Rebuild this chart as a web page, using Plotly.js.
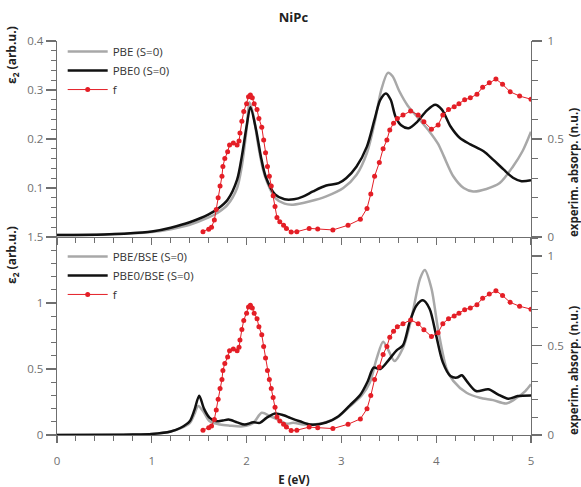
<!DOCTYPE html>
<html>
<head>
<meta charset="utf-8">
<script src="https://cdn.plot.ly/plotly-3.0.1.min.js"></script>
<style>html,body{margin:0;padding:0;background:#fff;}#chart{width:581px;height:487px;}</style>
</head>
<body>
<div id="chart"></div>
<script>
// ---- Top panel: PBE (S=0) ----
const pbeE = [0, 0.5, 1.0, 1.2, 1.4, 1.6, 1.7, 1.8, 1.9, 1.95, 2.0, 2.03, 2.07, 2.12, 2.17, 2.22, 2.3, 2.4, 2.49, 2.67, 2.84, 3.02, 3.16, 3.27, 3.35, 3.42, 3.49, 3.54, 3.61, 3.70, 3.8, 3.93, 4.02, 4.08, 4.18, 4.29, 4.39, 4.53, 4.67, 4.81, 4.91, 5.0];
const pbeV = [0.004, 0.005, 0.01, 0.016, 0.025, 0.04, 0.05, 0.066, 0.1, 0.145, 0.22, 0.275, 0.25, 0.19, 0.14, 0.11, 0.08, 0.068, 0.066, 0.073, 0.083, 0.1, 0.127, 0.172, 0.233, 0.30, 0.335, 0.328, 0.298, 0.268, 0.245, 0.215, 0.19, 0.165, 0.124, 0.1, 0.093, 0.098, 0.11, 0.144, 0.175, 0.215];
// ---- Top panel: PBE0 (S=0) ----
const pbe0E = [0, 0.5, 0.9, 1.0, 1.2, 1.4, 1.6, 1.7, 1.8, 1.9, 1.95, 2.0, 2.04, 2.1, 2.15, 2.2, 2.3, 2.4, 2.5, 2.6, 2.7, 2.84, 2.97, 3.05, 3.16, 3.27, 3.35, 3.41, 3.47, 3.52, 3.57, 3.63, 3.71, 3.8, 3.9, 3.99, 4.06, 4.15, 4.25, 4.36, 4.5, 4.6, 4.71, 4.81, 4.9, 5.0];
const pbe0V = [0.004, 0.005, 0.009, 0.011, 0.019, 0.03, 0.046, 0.058, 0.076, 0.117, 0.165, 0.226, 0.265, 0.219, 0.165, 0.124, 0.087, 0.077, 0.077, 0.083, 0.093, 0.105, 0.11, 0.12, 0.144, 0.185, 0.24, 0.28, 0.293, 0.28, 0.246, 0.228, 0.222, 0.235, 0.258, 0.27, 0.26, 0.226, 0.202, 0.189, 0.175, 0.158, 0.138, 0.121, 0.114, 0.116];
// ---- Bottom panel: PBE/BSE (S=0) ----
const bseE = [0, 0.8, 1.0, 1.2, 1.3, 1.4, 1.45, 1.49, 1.55, 1.61, 1.72, 1.82, 1.96, 2.07, 2.16, 2.25, 2.33, 2.42, 2.49, 2.63, 2.81, 2.95, 3.09, 3.21, 3.3, 3.37, 3.44, 3.49, 3.56, 3.65, 3.71, 3.76, 3.83, 3.88, 3.95, 4.02, 4.11, 4.18, 4.32, 4.46, 4.6, 4.74, 4.85, 4.94, 5.0];
const bseV = [0, 0.003, 0.008, 0.027, 0.05, 0.09, 0.16, 0.22, 0.17, 0.104, 0.079, 0.071, 0.066, 0.092, 0.168, 0.142, 0.117, 0.085, 0.092, 0.079, 0.092, 0.13, 0.218, 0.295, 0.397, 0.575, 0.707, 0.651, 0.56, 0.66, 0.80, 0.957, 1.185, 1.25, 1.11, 0.80, 0.50, 0.41, 0.32, 0.282, 0.264, 0.239, 0.282, 0.333, 0.384];
// ---- Bottom panel: PBE0/BSE (S=0) ----
const bse0E = [0, 0.8, 1.0, 1.2, 1.3, 1.4, 1.45, 1.5, 1.55, 1.61, 1.68, 1.75, 1.81, 1.9, 1.98, 2.07, 2.14, 2.21, 2.3, 2.39, 2.46, 2.56, 2.67, 2.84, 2.97, 3.09, 3.2, 3.28, 3.34, 3.41, 3.49, 3.58, 3.65, 3.72, 3.79, 3.86, 3.93, 4.0, 4.07, 4.15, 4.22, 4.27, 4.32, 4.42, 4.55, 4.65, 4.76, 4.86, 5.0];
const bse0V = [0, 0.003, 0.008, 0.027, 0.053, 0.104, 0.19, 0.298, 0.2, 0.13, 0.104, 0.11, 0.117, 0.096, 0.079, 0.096, 0.092, 0.13, 0.163, 0.15, 0.13, 0.104, 0.079, 0.095, 0.142, 0.225, 0.305, 0.41, 0.51, 0.50, 0.56, 0.64, 0.68, 0.855, 0.98, 1.02, 0.957, 0.753, 0.55, 0.447, 0.435, 0.453, 0.41, 0.333, 0.346, 0.308, 0.275, 0.295, 0.30];
// ---- Experimental absorption f (both panels, right axis) ----
const expE = [1.54, 1.60, 1.63, 1.66, 1.68, 1.70, 1.72, 1.74, 1.75, 1.77, 1.80, 1.82, 1.86, 1.90, 1.92, 1.93, 1.95, 1.97, 2.00, 2.02, 2.04, 2.06, 2.08, 2.11, 2.13, 2.16, 2.18, 2.20, 2.22, 2.24, 2.26, 2.28, 2.30, 2.32, 2.35, 2.39, 2.42, 2.47, 2.53, 2.66, 2.75, 2.91, 3.07, 3.20, 3.27, 3.31, 3.35, 3.40, 3.44, 3.48, 3.51, 3.55, 3.59, 3.65, 3.73, 3.81, 3.87, 3.95, 4.02, 4.07, 4.13, 4.19, 4.24, 4.30, 4.36, 4.43, 4.49, 4.56, 4.63, 4.70, 4.78, 4.88, 5.0];
const expF = [0.027, 0.04, 0.05, 0.087, 0.14, 0.2, 0.26, 0.31, 0.36, 0.40, 0.435, 0.47, 0.48, 0.47, 0.49, 0.53, 0.59, 0.64, 0.68, 0.715, 0.725, 0.71, 0.68, 0.65, 0.605, 0.56, 0.495, 0.43, 0.36, 0.31, 0.26, 0.21, 0.155, 0.10, 0.078, 0.06, 0.044, 0.025, 0.027, 0.044, 0.041, 0.036, 0.06, 0.09, 0.146, 0.22, 0.31, 0.38, 0.45, 0.495, 0.546, 0.58, 0.605, 0.622, 0.643, 0.622, 0.588, 0.55, 0.571, 0.622, 0.65, 0.665, 0.68, 0.70, 0.71, 0.728, 0.764, 0.787, 0.806, 0.779, 0.741, 0.719, 0.703];

const xTicks = [0, 1, 2, 3, 4, 5];
const yTopTicks = [0.1, 0.2, 0.3, 0.4];
const yBotTicks = [0, 0.5, 1, 1.5];
const yRightTicks = [0, 0.5, 1];

const GRAY = '#a8a8a8', BLACK = '#111111', RED = '#e41e26';
const AX = '#6f6f6f', TK = '#707070';
const FONT = 'Open Sans, Noto Sans, sans-serif';

const traces = [
  {x: pbeE, y: pbeV, xaxis: 'x', yaxis: 'y', name: 'PBE (S=0)', mode: 'lines', line: {color: GRAY, width: 2.5, shape: 'spline', smoothing: 0.8}, legend: 'legend'},
  {x: pbe0E, y: pbe0V, xaxis: 'x', yaxis: 'y', name: 'PBE0 (S=0)', mode: 'lines', line: {color: BLACK, width: 2.5, shape: 'spline', smoothing: 0.8}, legend: 'legend'},
  {x: expE, y: expF, xaxis: 'x', yaxis: 'y2', name: 'f', mode: 'lines+markers', line: {color: RED, width: 1}, marker: {color: RED, size: 5, symbol: 'circle'}, legend: 'legend'},
  {x: bseE, y: bseV, xaxis: 'x2', yaxis: 'y3', name: 'PBE/BSE (S=0)', mode: 'lines', line: {color: GRAY, width: 2.5, shape: 'spline', smoothing: 0.8}, legend: 'legend2'},
  {x: bse0E, y: bse0V, xaxis: 'x2', yaxis: 'y3', name: 'PBE0/BSE (S=0)', mode: 'lines', line: {color: BLACK, width: 2.5, shape: 'spline', smoothing: 0.8}, legend: 'legend2'},
  {x: expE, y: expF, xaxis: 'x2', yaxis: 'y4', name: 'f', mode: 'lines+markers', line: {color: RED, width: 1}, marker: {color: RED, size: 5, symbol: 'circle'}, legend: 'legend2'}
];

const split = (435 - 237) / 394;
const tickFont = {family: FONT, size: 11.5, color: TK};
const baseX = {range: [0, 5], showline: true, linecolor: AX, linewidth: 1.3, ticks: 'outside', ticklen: 7, tickwidth: 1.2, tickcolor: AX,
  tickvals: xTicks, minor: {dtick: 0.2, ticks: 'outside', ticklen: 5, tickcolor: AX, tickwidth: 1}, showgrid: false, zeroline: false, tickfont: tickFont};
const baseY = {showline: true, linecolor: AX, linewidth: 1.3, ticks: 'outside', ticklen: 10, tickwidth: 1.2, tickcolor: AX, showgrid: false, zeroline: false, tickfont: tickFont};
const legFont = {family: FONT, size: 11.5, color: '#333'};

const layout = {
  width: 581, height: 487,
  margin: {l: 57, r: 50, t: 41, b: 52},
  paper_bgcolor: '#fff', plot_bgcolor: '#fff',
  font: {family: FONT, color: '#222'},
  title: {text: '<b>NiPc</b>', font: {family: FONT, size: 13, color: '#222'}, x: 0.505, xanchor: 'center', y: 0.965, yanchor: 'middle', xref: 'container', yref: 'container'},
  showlegend: true,
  xaxis: Object.assign({}, baseX, {anchor: 'y', domain: [0, 1], showticklabels: false}),
  yaxis: Object.assign({}, baseY, {domain: [split, 1], range: [0, 0.4], tickvals: yTopTicks, minor: {dtick: 0.02, ticks: 'outside', ticklen: 5, tickcolor: AX, tickwidth: 1}}),
  yaxis2: Object.assign({}, baseY, {overlaying: 'y', side: 'right', anchor: 'x', range: [0, 1], tickvals: yRightTicks, ticklen: 10, ticklabelstandoff: 3, minor: {dtick: 0.1, ticks: 'outside', ticklen: 6, tickcolor: AX, tickwidth: 1}}),
  xaxis2: Object.assign({}, baseX, {anchor: 'y3', domain: [0, 1], showticklabels: true, ticklabelstandoff: 8,
    title: {text: '<b>E (eV)</b>', font: {family: FONT, size: 11.5, color: '#222'}, standoff: 10}}),
  yaxis3: Object.assign({}, baseY, {domain: [0, split], range: [0, 1.5], anchor: 'x2', tickvals: yBotTicks, minor: {dtick: 0.1, ticks: 'outside', ticklen: 5, tickcolor: AX, tickwidth: 1}}),
  yaxis4: Object.assign({}, baseY, {overlaying: 'y3', side: 'right', anchor: 'x2', range: [0, 1.106], tickvals: yRightTicks, ticklen: 10, ticklabelstandoff: 3, minor: {dtick: 0.1, ticks: 'outside', ticklen: 6, tickcolor: AX, tickwidth: 1}}),
  legend: {x: 0.012, y: 1.01, xanchor: 'left', yanchor: 'top', bgcolor: 'rgba(0,0,0,0)', font: legFont, tracegroupgap: 0, itemwidth: 40},
  legend2: {x: 0.012, y: 0.49, xanchor: 'left', yanchor: 'top', bgcolor: 'rgba(0,0,0,0)', font: legFont, tracegroupgap: 0, itemwidth: 40},
  annotations: [
    {text: '<b>ε<sub>2</sub> (arb.u.)</b>', xref: 'paper', yref: 'paper', x: -45 / 474, y: (435 - 55) / 394, textangle: -90, showarrow: false, xanchor: 'center', yanchor: 'middle', font: {family: FONT, size: 12, color: '#222'}},
    {text: '<b>ε<sub>2</sub> (arb.u.)</b>', xref: 'paper', yref: 'paper', x: -45 / 474, y: (435 - 255) / 394, textangle: -90, showarrow: false, xanchor: 'center', yanchor: 'middle', font: {family: FONT, size: 12, color: '#222'}},
    {text: '<b>experim. absorp. (n.u.)</b>', xref: 'paper', yref: 'paper', x: 516 / 474, y: (435 - 173) / 394, textangle: -90, showarrow: false, xanchor: 'center', yanchor: 'middle', font: {family: FONT, size: 11.5, color: '#222'}},
    {text: '<b>experim. absorp. (n.u.)</b>', xref: 'paper', yref: 'paper', x: 516 / 474, y: (435 - 371) / 394, textangle: -90, showarrow: false, xanchor: 'center', yanchor: 'middle', font: {family: FONT, size: 11.5, color: '#222'}}
  ]
};

Plotly.newPlot('chart', traces, layout, {staticPlot: true, displayModeBar: false});
</script>
</body>
</html>
